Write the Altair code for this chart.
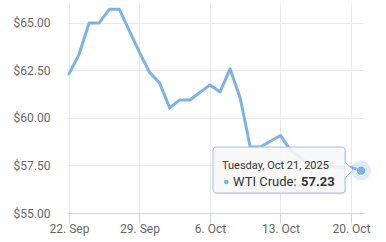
import altair as alt
import pandas as pd

# ---- data ----
dates = ["2025-09-22", "2025-09-23", "2025-09-24", "2025-09-25", "2025-09-26", "2025-09-27",
         "2025-09-29", "2025-09-30", "2025-10-01", "2025-10-02", "2025-10-03", "2025-10-04",
         "2025-10-06", "2025-10-07", "2025-10-08", "2025-10-09", "2025-10-10", "2025-10-11",
         "2025-10-13", "2025-10-14", "2025-10-15", "2025-10-16", "2025-10-17", "2025-10-18",
         "2025-10-20", "2025-10-21"]
prices = [62.32, 63.35, 65.00, 65.00, 65.72, 65.72,
          63.45, 62.40, 61.84, 60.53, 60.95, 60.95,
          61.74, 61.37, 62.58, 61.05, 58.47, 58.47,
          59.08, 58.30, 57.90, 57.45, 57.45, 57.45,
          57.40, 57.23]
y_ticks = [55, 57.5, 60, 62.5, 65]
x_ticks = ["2025-09-22", "2025-09-29", "2025-10-06", "2025-10-13", "2025-10-20"]
series_name = "WTI Crude"
hover_date = "2025-10-21"
hover_value = 57.23
header_text = "Tuesday, Oct 21, 2025"

LINE = "#7cb2e6"
base = pd.Timestamp("2025-09-22")


def t(days):
    return (base + pd.Timedelta(days=days)).strftime("%Y-%m-%dT%H:%M:%S")


def dt(days):
    ts = base + pd.Timedelta(days=days)
    return alt.DateTime(year=ts.year, month=ts.month, date=ts.day,
                        hours=ts.hour, minutes=ts.minute, seconds=ts.second)


df = pd.DataFrame({"date": [d + "T00:00:00" for d in dates], "price": prices})

x_scale = alt.Scale(domain=[dt(-0.1986), dt(29.295)])
y_scale = alt.Scale(domain=[55, 66.05], nice=False, zero=False)

x_axis = alt.Axis(values=[dt((pd.Timestamp(v) - base).days) for v in x_ticks],
                  format="%-d. %b", title=None, grid=True, gridColor="#e9e9e9",
                  domainColor="#ccd6eb", tickColor="#ccd6eb", tickSize=10,
                  labelPadding=0, labelColor="#666666", labelFont="Roboto",
                  labelFontSize=12, labelFlush=False)
y_axis = alt.Axis(values=y_ticks, format="$.2f", title=None, grid=True,
                  gridColor="#e9e9e9", domain=False, ticks=False, tickSize=0,
                  labelPadding=17, labelColor="#666666", labelFont="Roboto",
                  labelFontSize=12)

X = lambda: alt.X("date:T", scale=x_scale, axis=x_axis)
Y = lambda: alt.Y("price:Q", scale=y_scale, axis=y_axis)

line = alt.Chart(df).mark_line(color=LINE, strokeWidth=3, strokeJoin="round",
                               strokeCap="round").encode(x=X(), y=Y())

hov = pd.DataFrame({"date": [hover_date + "T00:00:00"], "price": [hover_value]})
halo = alt.Chart(hov).mark_point(filled=True, shape="circle", size=380, color=LINE,
                                 opacity=0.25).encode(x="date:T", y="price:Q")
dot = alt.Chart(hov).mark_point(filled=True, shape="circle", size=90, color=LINE,
                                opacity=1, stroke="white", strokeWidth=1).encode(
    x="date:T", y="price:Q")

# tooltip box (positioned in data units)
box = pd.DataFrame({"x": [t(14.30)], "x2": [t(27.41)], "y": [58.47], "y2": [56.05]})
shadow = pd.DataFrame({"x": [t(14.40)], "x2": [t(27.55)], "y": [58.40], "y2": [55.97]})
shadow_m = alt.Chart(shadow).mark_rect(color="#000000", opacity=0.07, cornerRadius=3).encode(
    x="x:T", x2="x2:T", y="y:Q", y2="y2:Q")
box_m = alt.Chart(box).mark_rect(fill="#f9f9f9", fillOpacity=0.88, stroke="#9fc2e4",
                                 strokeWidth=1, cornerRadius=3).encode(
    x="x:T", x2="x2:T", y="y:Q", y2="y2:Q")

arrow = pd.DataFrame({"x": [t(27.36), t(28.20)], "y": [57.68, 57.26], "y2": [56.84, 57.26]})
arrow_fill = alt.Chart(arrow).mark_area(color="#f9f9f9", opacity=0.95).encode(
    x="x:T", y="y:Q", y2="y2:Q")
arrow_edges = pd.DataFrame({"x": [t(27.41), t(28.20), t(27.41)], "y": [57.68, 57.26, 56.84],
                            "o": [0, 1, 2]})
arrow_line = alt.Chart(arrow_edges).mark_line(color="#9fc2e4", strokeWidth=1).encode(
    x="x:T", y="y:Q", order="o:Q")

hdr = pd.DataFrame({"x": [t(15.19)], "y": [57.30], "txt": [header_text]})
hdr_m = alt.Chart(hdr).mark_text(align="left", baseline="alphabetic", font="Roboto",
                                 fontSize=11, color="#333333").encode(
    x="x:T", y="y:Q", text="txt:N")
bul = pd.DataFrame({"x": [t(15.62)], "y": [56.63]})
bul_m = alt.Chart(bul).mark_point(filled=True, shape="circle", size=22, color=LINE,
                                  opacity=1).encode(x="x:T", y="y:Q")
lab = pd.DataFrame({"x": [t(16.29)], "y": [56.44], "txt": [series_name + ":"]})
lab_m = alt.Chart(lab).mark_text(align="left", baseline="alphabetic", font="Roboto",
                                 fontSize=13, color="#333333").encode(
    x="x:T", y="y:Q", text="txt:N")
val = pd.DataFrame({"x": [t(23.04)], "y": [56.44], "txt": [f"{hover_value:.2f}"]})
val_m = alt.Chart(val).mark_text(align="left", baseline="alphabetic", font="Roboto",
                                 fontSize=13, fontWeight="bold", color="#333333").encode(
    x="x:T", y="y:Q", text="txt:N")

chart = alt.layer(line, halo, dot, shadow_m, box_m, arrow_fill, arrow_line,
                  hdr_m, bul_m, lab_m, val_m).properties(
    width=297, height=210,
    padding={"left": 67, "top": 3, "right": 22, "bottom": 29},
    autosize=alt.AutoSizeParams(type="none"),
    background="white",
).configure_view(stroke=None)

chart.save("out.html", embed_options={"renderer": "svg", "actions": False})
